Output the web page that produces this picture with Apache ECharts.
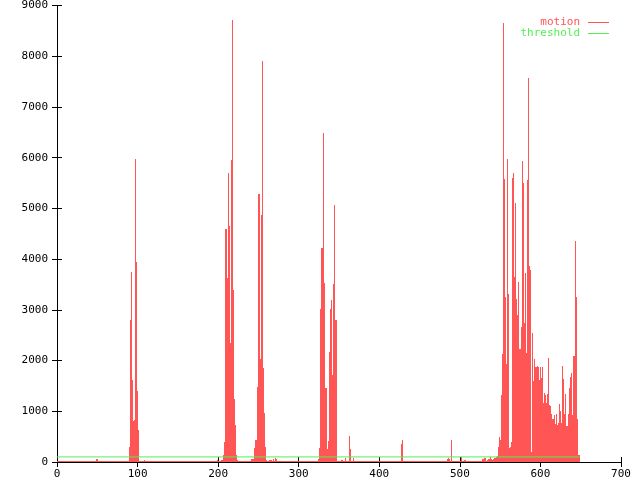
<!DOCTYPE html>
<html><head><meta charset="utf-8">
<script src="https://cdn.jsdelivr.net/npm/echarts@6/dist/echarts.min.js"></script>
<style>html,body{margin:0;padding:0;background:#fff}#c{width:640px;height:480px}</style>
</head><body><div id="c"></div>
<script>
// motion value per frame (frames 0..648)
const motion = [
/*0*/   0,0,0,0,0,0,0,0,0,0,
/*10*/  0,0,0,0,0,0,0,0,0,0,
/*20*/  0,0,0,0,0,0,0,0,0,0,
/*30*/  0,0,0,0,0,0,0,0,0,0,
/*40*/  0,0,0,0,0,0,0,0,0,60,
/*50*/  60,0,0,0,0,0,0,0,0,0,
/*60*/  0,0,0,0,0,0,0,0,0,0,
/*70*/  0,0,0,0,0,0,0,0,0,0,
/*80*/  0,0,0,0,0,0,0,0,0,300,
/*90*/  870,2800,3740,1610,800,790,820,5970,3940,1400,
/*100*/ 630,620,0,0,0,0,0,0,30,0,
/*110*/ 0,0,0,0,0,0,0,0,0,0,
/*120*/ 0,0,0,0,0,0,0,0,0,0,
/*130*/ 0,0,0,0,0,0,0,0,0,0,
/*140*/ 0,0,0,0,0,0,0,0,0,0,
/*150*/ 0,0,0,0,0,0,0,0,0,0,
/*160*/ 0,0,0,0,0,0,0,0,0,0,
/*170*/ 0,0,0,0,0,0,0,0,0,0,
/*180*/ 0,0,0,0,0,0,0,0,0,0,
/*190*/ 0,0,0,0,0,0,0,0,40,0,
/*200*/ 0,0,0,0,40,40,140,400,2340,4590,
/*210*/ 4590,3620,5700,4650,4650,2350,5950,8720,3390,1250,
/*220*/ 1250,730,140,40,0,0,0,0,0,0,
/*230*/ 0,0,0,0,0,0,0,0,0,0,
/*240*/ 0,50,50,50,270,270,430,430,1480,4860,
/*250*/ 5280,5280,2040,4860,7900,1850,1850,960,300,40,
/*260*/ 0,0,0,30,30,30,0,0,50,0,
/*270*/ 60,70,60,0,0,0,0,0,0,0,
/*280*/ 0,0,0,0,0,0,0,0,0,0,
/*290*/ 0,0,0,0,0,0,0,0,0,0,
/*300*/ 0,0,0,0,0,0,0,0,0,0,
/*310*/ 0,0,0,0,0,0,0,0,0,0,
/*320*/ 0,0,0,0,60,270,1380,3010,4220,4220,
/*330*/ 6480,3530,2660,1460,1460,250,420,2170,2170,3020,
/*340*/ 3190,1710,3500,3500,5060,2800,2800,0,0,0,
/*350*/ 0,0,40,40,40,0,0,60,80,20,
/*360*/ 20,20,0,520,260,20,0,80,20,20,
/*370*/ 0,0,0,0,0,0,0,0,0,0,
/*380*/ 0,0,0,0,0,0,0,0,0,0,
/*390*/ 0,0,0,0,0,0,0,0,0,0,
/*400*/ 0,0,0,0,0,0,0,0,0,0,
/*410*/ 0,0,0,0,0,0,0,0,0,0,
/*420*/ 0,0,0,0,0,0,0,350,430,0,
/*430*/ 0,0,0,0,0,0,0,0,0,0,
/*440*/ 0,0,0,0,0,0,0,0,0,0,
/*450*/ 0,0,0,0,0,0,0,0,0,0,
/*460*/ 0,0,0,0,0,0,0,0,0,0,
/*470*/ 0,0,0,0,0,0,0,0,0,0,
/*480*/ 0,0,0,20,60,85,60,0,0,430,
/*490*/ 0,0,0,0,0,0,0,0,0,0,
/*500*/ 0,90,0,0,0,40,40,0,0,0,
/*510*/ 0,0,0,0,0,0,0,0,0,0,
/*520*/ 0,0,0,0,0,0,0,0,50,60,
/*530*/ 80,80,20,0,40,60,60,80,90,60,
/*540*/ 40,60,80,80,40,90,120,300,400,500,
/*550*/ 430,1320,2130,8660,5580,5580,3250,1940,5980,3310,
/*560*/ 3310,270,300,400,400,5600,5700,3650,5110,5110,
/*570*/ 3220,2890,3540,170,2220,2220,2660,5930,5500,2740,
/*580*/ 2740,3730,2150,5550,5550,7570,3860,3780,190,2550,
/*590*/ 2550,1600,2030,1880,1880,1880,1900,1870,1610,1870,
/*600*/ 1870,1660,1870,1170,1360,1360,1330,1170,1350,2060,
/*610*/ 1120,1120,1100,945,840,840,840,925,750,940,
/*620*/ 730,730,760,1140,1010,770,770,1890,1630,940,
/*630*/ 1350,1350,700,700,940,1460,1460,1680,1750,925,
/*640*/ 2050,2090,2090,4360,3250,850,140,140,140
];
const thresholdValue = 100;
const seriesNames = ['motion', 'threshold'];
const xRange = [0, 700], xStep = 100;
const yRange = [0, 9000], yStep = 1000;

const motionColor = '#ff5555';
const thresholdColor = '#55ee55';
const FONT = 'DejaVu Sans Mono';
const FS = 11;

const motionData = motion.map((v, i) => [i, v]);
const lastFrame = motion.length - 1;
const thresholdData = [[0, thresholdValue], [lastFrame, thresholdValue]];

const chart = echarts.init(document.getElementById('c'), null, {renderer: 'canvas'});
const axisCommon = {
  axisLine: {show: true, lineStyle: {color: '#000', width: 1}},
  axisTick: {show: true, inside: true, length: 5, lineStyle: {color: '#000', width: 1}},
  splitLine: {show: false}
};
const labelStyle = {color: '#000', fontFamily: FONT, fontSize: FS};
const legendCommon = {right: 31, align: 'right', orient: 'vertical', itemWidth: 21, itemHeight: 1,
  icon: 'rect', padding: 0, selectedMode: false};
chart.setOption({
  animation: false,
  backgroundColor: '#fff',
  color: [motionColor, thresholdColor],
  grid: {left: 57, right: 19, top: 5, bottom: 18, containLabel: false},
  xAxis: [
    Object.assign({type: 'value', position: 'bottom', min: xRange[0], max: xRange[1], interval: xStep,
      axisLabel: Object.assign({margin: 7, formatter: v => String(v)}, labelStyle)}, axisCommon),
    Object.assign({type: 'value', position: 'top', min: xRange[0], max: xRange[1], interval: xStep,
      axisLabel: {show: false}}, axisCommon)
  ],
  yAxis: [
    Object.assign({type: 'value', position: 'left', min: yRange[0], max: yRange[1], interval: yStep,
      axisLabel: Object.assign({margin: 9, formatter: v => String(v)}, labelStyle)}, axisCommon),
    Object.assign({type: 'value', position: 'right', min: yRange[0], max: yRange[1], interval: yStep,
      axisLabel: {show: false}}, axisCommon)
  ],
  legend: [
    Object.assign({data: [{name: seriesNames[0], textStyle: {color: motionColor}, itemStyle: {color: motionColor}}], top: 17,
      textStyle: {fontFamily: FONT, fontSize: FS, padding: [0, 3, 0, 0]}}, legendCommon),
    Object.assign({data: [{name: seriesNames[1], textStyle: {color: thresholdColor}, itemStyle: {color: thresholdColor}}], top: 28,
      textStyle: {fontFamily: FONT, fontSize: FS, padding: [0, 3, 0, 0]}}, legendCommon)
  ],
  series: [
    {
      name: seriesNames[0], type: 'custom', xAxisIndex: 0, yAxisIndex: 0,
      itemStyle: {color: motionColor},
      encode: {x: 0, y: 1},
      data: motionData,
      z: 2,
      renderItem: function (params, api) {
        const x = api.value(0), v = api.value(1);
        const top = api.coord([x, v]);
        const base = api.coord([x, 0]);
        const col = Math.round(top[0]);
        const y0 = Math.round(base[1]);
        let y1 = Math.round(top[1]);
        if (y0 - y1 < 1) y1 = y0 - 1;
        return {type: 'rect', shape: {x: col, y: y1, width: 1, height: y0 - y1},
                style: {fill: motionColor}};
      }
    },
    {
      name: seriesNames[1], type: 'line', xAxisIndex: 0, yAxisIndex: 0,
      data: thresholdData, symbol: 'none', z: 3,
      itemStyle: {color: thresholdColor},
      lineStyle: {color: thresholdColor, width: 1}
    }
  ]
});
</script>
</body></html>
